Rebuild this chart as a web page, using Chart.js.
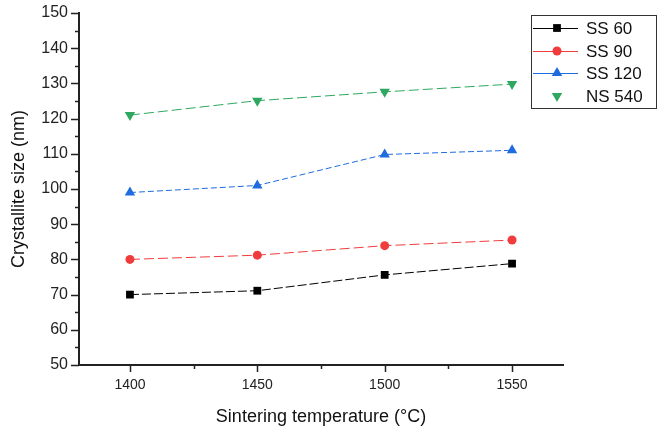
<!DOCTYPE html>
<html>
<head>
<meta charset="utf-8">
<script src="https://cdn.jsdelivr.net/npm/chart.js@4.4.1/dist/chart.umd.min.js"></script>
<style>
  html, body { margin: 0; padding: 0; background: #ffffff; }
  #wrap { width: 662px; height: 435px; position: relative; }
</style>
</head>
<body>
<div id="wrap"><canvas id="c" width="662" height="435"></canvas></div>
<script>
// ---- data ----
const temperatures = [1400, 1450, 1500, 1550];
const seriesNames = ['SS 60', 'SS 90', 'SS 120', 'NS 540'];
const ss60 = [70.0, 71.1, 75.6, 78.8];
const ss90 = [80.0, 81.2, 83.9, 85.5];
const ss120 = [99.0, 101.0, 109.8, 111.0];
const ns540 = [121.0, 125.1, 127.6, 129.8];
const xTickValues = [1400, 1450, 1500, 1550];
const xMinorTickValues = [1425, 1475, 1525];
const yTickValues = [50, 60, 70, 80, 90, 100, 110, 120, 130, 140, 150];
const yMinorTickValues = [55, 65, 75, 85, 95, 105, 115, 125, 135, 145];

const FONT = "'Liberation Sans', Arial, sans-serif";
const AXIS = '#222222';

function pts(vals) { return temperatures.map((t, i) => ({ x: t, y: vals[i] })); }

const styles = [
  { color: '#000000', point: 'rect', r: 5.5, rot: 0, dash: [9, 3], legendLine: true },
  { color: '#f03c3c', point: 'circle', r: 4.5, rot: 0, dash: [10, 4], legendLine: true },
  { color: '#1f6be0', point: 'triangle', r: 6, rot: 0, dash: [6, 3], legendLine: true },
  { color: '#2ea860', point: 'triangle', r: 6, rot: 180, dash: [10, 4], legendLine: false }
];
const seriesValues = [ss60, ss90, ss120, ns540];

const datasets = seriesValues.map((vals, i) => ({
  label: seriesNames[i],
  data: pts(vals),
  borderColor: styles[i].color,
  backgroundColor: styles[i].color,
  borderWidth: 1,
  borderDash: styles[i].dash,
  pointStyle: styles[i].point,
  pointRadius: styles[i].r,
  pointRotation: styles[i].rot,
  pointBorderWidth: 0,
  pointBackgroundColor: styles[i].color,
  pointBorderColor: styles[i].color,
  tension: 0,
  legendLine: styles[i].legendLine
}));

const tickPlugin = {
  id: 'ticksMinor',
  afterDraw(chart) {
    const ctx = chart.ctx;
    const xs = chart.scales.x, ys = chart.scales.y;
    const area = chart.chartArea;
    ctx.save();
    ctx.strokeStyle = AXIS;
    ctx.lineWidth = 1.5;
    ctx.beginPath();
    yTickValues.forEach(v => { const p = Math.round(ys.getPixelForValue(v)) + 0.5; ctx.moveTo(area.left - 8, p); ctx.lineTo(area.left, p); });
    yMinorTickValues.forEach(v => { const p = Math.round(ys.getPixelForValue(v)) + 0.5; ctx.moveTo(area.left - 4, p); ctx.lineTo(area.left, p); });
    xTickValues.forEach(v => { const p = Math.round(xs.getPixelForValue(v)) + 0.5; ctx.moveTo(p, area.bottom); ctx.lineTo(p, area.bottom + 7); });
    xMinorTickValues.forEach(v => { const p = Math.round(xs.getPixelForValue(v)) + 0.5; ctx.moveTo(p, area.bottom); ctx.lineTo(p, area.bottom + 4); });
    ctx.stroke();
    ctx.restore();
  }
};

const legendPlugin = {
  id: 'boxLegend',
  afterDraw(chart) {
    const ctx = chart.ctx;
    const left = 531, top = 15, right = 656, bottom = 108;
    ctx.save();
    ctx.fillStyle = '#ffffff';
    ctx.fillRect(left, top, right - left, bottom - top);
    ctx.strokeStyle = '#333333';
    ctx.lineWidth = 1;
    ctx.strokeRect(left + 0.5, top + 0.5, right - left, bottom - top);
    const rowY = [28, 51, 73, 96];
    chart.data.datasets.forEach((ds, i) => {
      const y = rowY[i];
      if (ds.legendLine) {
        ctx.strokeStyle = ds.borderColor;
        ctx.lineWidth = 1;
        ctx.setLineDash([]);
        ctx.beginPath();
        ctx.moveTo(533, y + 0.5);
        ctx.lineTo(578, y + 0.5);
        ctx.stroke();
      }
      ctx.fillStyle = ds.pointBackgroundColor;
      ctx.strokeStyle = ds.pointBorderColor;
      Chart.helpers.drawPoint(ctx, { pointStyle: ds.pointStyle, radius: ds.pointRadius, rotation: ds.pointRotation, borderWidth: 0 }, 557, y);
      ctx.fillStyle = '#111111';
      ctx.font = "17px " + FONT;
      ctx.textBaseline = 'middle';
      ctx.textAlign = 'left';
      ctx.fillText(ds.label, 586, y + 1);
    });
    ctx.restore();
  }
};

new Chart(document.getElementById('c'), {
  type: 'line',
  data: { datasets },
  plugins: [tickPlugin, legendPlugin],
  options: {
    responsive: false,
    animation: false,
    devicePixelRatio: 1,
    layout: { padding: { left: 0, top: 13, right: 99, bottom: 0 } },
    plugins: { legend: { display: false }, tooltip: { enabled: false } },
    scales: {
      x: {
        type: 'linear',
        min: 1380,
        max: 1570,
        afterBuildTicks(scale) { scale.ticks = xTickValues.map(v => ({ value: v })); },
        afterFit(scale) { scale.height = 70; scale.paddingLeft = 0; scale.paddingRight = 0; },
        grid: { display: false, drawTicks: false },
        border: { display: true, color: AXIS, width: 2 },
        ticks: { color: '#222', font: { family: FONT, size: 14 }, padding: 12, maxRotation: 0, callback: v => String(v) },
        title: { display: true, text: 'Sintering temperature (°C)', color: '#111', font: { family: FONT, size: 18 }, padding: { top: 0, bottom: 7 } }
      },
      y: {
        type: 'linear',
        min: 50,
        max: 150,
        afterBuildTicks(scale) { scale.ticks = yTickValues.map(v => ({ value: v })); },
        afterFit(scale) { scale.width = 79; scale.paddingTop = 0; scale.paddingBottom = 0; },
        grid: { display: false, drawTicks: false },
        border: { display: true, color: AXIS, width: 2 },
        ticks: { color: '#222', font: { family: FONT, size: 16 }, padding: 11, callback: v => String(v) },
        title: { display: true, text: 'Crystallite size (nm)', color: '#111', font: { family: FONT, size: 18 }, padding: { top: 8, bottom: 0 } }
      }
    }
  }
});
</script>
</body>
</html>
